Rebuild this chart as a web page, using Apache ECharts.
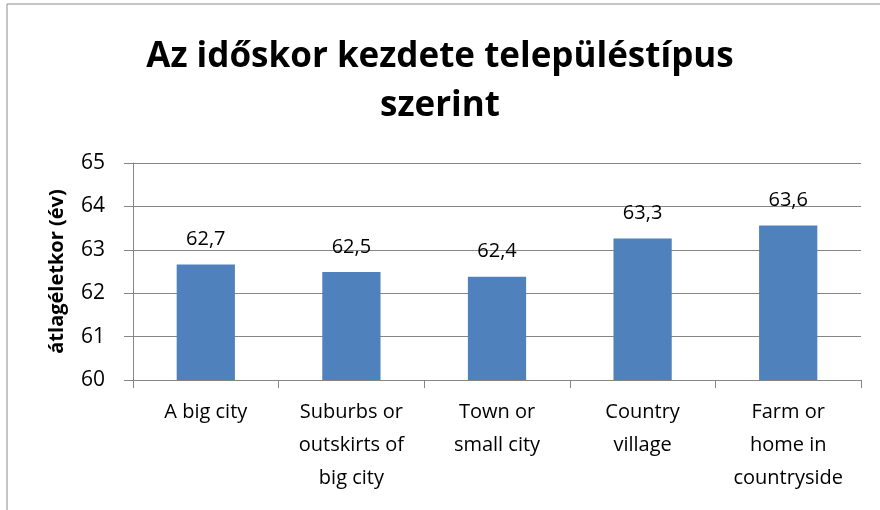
<!DOCTYPE html>
<html>
<head>
<meta charset="utf-8">
<script src="https://cdn.jsdelivr.net/npm/echarts@6/dist/echarts.min.js"></script>
<style>
	html, body { margin: 0; padding: 0; background: #fff; }
	#bar_chart { width: 880px; height: 510px; }
</style>
</head>
<body>
<div id="bar_chart"></div>
<script>
var categories = ["A big city", "Suburbs or\noutskirts of\nbig city", "Town or\nsmall city", "Country\nvillage", "Farm or\nhome in\ncountryside"];
var values = [62.66, 62.49, 62.38, 63.26, 63.56];
var yTicks = [60, 61, 62, 63, 64, 65];

var font = '"Open Sans", Lato, sans-serif';

function bar_chart() {
	var chart = echarts.init(document.getElementById("bar_chart"));
	chart.setOption({
		animation: false,
		title: {
			text: 'Az időskor kezdete településtípus\nszerint',
			left: 'center',
			top: 28,
			textStyle: {
				fontFamily: font,
				fontSize: 35,
				fontWeight: 'bold',
				lineHeight: 49,
				color: '#000'
			}
		},
		graphic: [{
			type: 'rect',
			shape: { x: 7, y: 4, width: 900, height: 600 },
			style: { fill: 'none', stroke: '#8c8c8c', lineWidth: 1 },
			silent: true
		}],
		grid: {
			left: 133,
			right: 19,
			top: 163,
			bottom: 130
		},
		xAxis: {
			type: 'category',
			data: categories,
			axisLine: { lineStyle: { color: '#868686' } },
			axisTick: { show: true, length: 8, lineStyle: { color: '#868686' } },
			axisLabel: {
				interval: 0,
				margin: 16,
				fontFamily: font,
				fontSize: 20,
				lineHeight: 33,
				color: '#000'
			}
		},
		yAxis: {
			type: 'value',
			min: yTicks[0],
			max: yTicks[yTicks.length - 1],
			interval: 1,
			name: 'átlagéletkor (év)',
			nameLocation: 'middle',
			nameGap: 66,
			nameTextStyle: {
				fontFamily: font,
				fontSize: 20,
				fontWeight: 'bold',
				color: '#000'
			},
			axisLine: { show: true, lineStyle: { color: '#868686' } },
			axisTick: { show: true, length: 9, lineStyle: { color: '#868686' } },
			axisLabel: {
				margin: 28,
				fontFamily: font,
				fontSize: 21,
				color: '#000'
			},
			splitLine: { show: true, lineStyle: { color: '#868686', width: 1 } }
		},
		series: [{
			type: 'bar',
			data: values,
			barWidth: '40%',
			itemStyle: { color: '#4F81BD' },
			label: {
				show: true,
				position: 'top',
				distance: 15,
				fontFamily: font,
				fontSize: 20,
				color: '#000',
				formatter: function (p) {
					return p.value.toFixed(1).replace('.', ',');
				}
			}
		}]
	});
}
bar_chart();
</script>
</body>
</html>
